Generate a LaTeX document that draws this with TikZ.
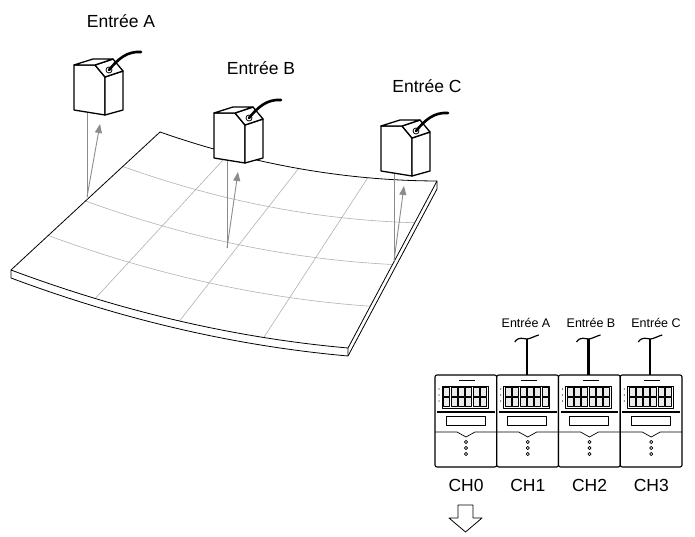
\documentclass[tikz,border=0pt]{standalone}
\usepackage{fontspec}
\setmainfont{Liberation Sans}
\usetikzlibrary{arrows.meta}
\begin{document}
\begin{tikzpicture}[x=1pt,y=-1pt,line join=round,
  edge/.style={draw=black,line width=0.8pt},
  grid/.style={draw=black!30,line width=0.6pt},
  ray/.style={draw=black!45,line width=0.9pt},
  sens/.style={draw=black,line width=1.3pt,fill=white},
  lbl/.style={font=\fontsize{17.5}{17.5}\selectfont,inner sep=0pt},
  slbl/.style={font=\fontsize{12.5}{12.5}\selectfont,inner sep=0pt},
  mod/.style={draw=black,line width=1.1pt,fill=white,rounded corners=2pt}]
\useasboundingbox (0,0) rectangle (695,537);
% surface
\def\SX#1#2{(1-#2)*((1-#1)*160+#1*437)+#2*((1-#1)*11+#1*348)}
\def\SY#1#2{(1-#2)*((1-#1)*132+#1*181)+#2*((1-#1)*270+#1*348)+48*#1*(1-#1)}
\fill[white] plot[domain=0:1,samples=40,variable=\u] ({\SX{\u}{0}},{\SY{\u}{0}}) -- plot[domain=1:0,samples=40,variable=\u] ({\SX{\u}{1}},{\SY{\u}{1}+8}) -- cycle;
\foreach \v in {0.25,0.5,0.75}
  \draw[grid] plot[domain=0:1,samples=40,variable=\u] ({\SX{\u}{\v}},{\SY{\u}{\v}});
\foreach \u in {0.25,0.5,0.75}
  \draw[grid] ({\SX{\u}{0}},{\SY{\u}{0}}) -- ({\SX{\u}{1}},{\SY{\u}{1}});
\draw[edge] plot[domain=0:1,samples=40,variable=\u] ({\SX{\u}{0}},{\SY{\u}{0}});
\draw[edge] plot[domain=0:1,samples=40,variable=\u] ({\SX{\u}{1}},{\SY{\u}{1}});
\draw[edge] plot[domain=0:1,samples=40,variable=\u] ({\SX{\u}{1}},{\SY{\u}{1}+8});
\draw[edge] (160,132) -- (11,270) -- (11,278);
\draw[edge] (437,181) -- (348,348) -- (348,356);
\draw[edge] (437,181) -- (437,189) -- (348,356);
% sensors
\newcommand\mysensor[3]{%
\begin{scope}[shift={(#1,#2)}]
 \coordinate (#3) at (0,0);
 \draw[sens] (0,0) -- (21,0) -- (31,12) -- (31,50) -- (0,45) -- cycle;
 \draw[sens] (31,12) -- (49,6) -- (49,45) -- (31,50) -- cycle;
 \draw[sens] (21,0) -- (39,-6) -- (49,6) -- (31,12) -- cycle;
 \draw[sens] (0,0) -- (19,-6) -- (39,-6) -- (21,0) -- cycle;
 \draw[line width=0.8pt] (35,5) circle (3);
 \draw[line width=2.6pt,line cap=round] (35,5) .. controls (44,-6) and (53,-14) .. (67,-13);
\end{scope}}
\coordinate (pa) at (87,197); \coordinate (pb) at (227,248); \coordinate (pc) at (394,261);
\coordinate (ta) at (100,124); \coordinate (tb) at (238,172); \coordinate (tc) at (404,186);
\draw[ray] (87,112) -- (pa); \draw[ray] (227,161) -- (pb); \draw[ray] (394,174) -- (pc);
\draw[ray,-{Triangle[length=9pt,width=7pt]}] (pa) -- (ta);
\draw[ray,-{Triangle[length=9pt,width=7pt]}] (pb) -- (tb);
\draw[ray,-{Triangle[length=9pt,width=7pt]}] (pc) -- (tc);
\mysensor{74}{65}{sa}
\mysensor{214}{113}{sb}
\mysensor{381}{126}{sc}
\node[lbl] (la) at (121,21) {Entrée A};
\node[lbl] (lb) at (261,68) {Entrée B};
\node[lbl] (lc) at (427,86) {Entrée C};
% modules
\foreach \i/\nm in {0/CH0,1/CH1,2/CH2,3/CH3}{
 \begin{scope}[shift={({435+61.75*\i},375)}]
  \draw[mod] (0,0) rectangle (61.75,92);
  \draw[line width=0.7pt] (7,11) rectangle (53,33);
  \foreach \c in {0,...,5}{\foreach \r in {0,1}{
    \draw[line width=0.4pt,fill=black!8] ({8.5+7.3*\c},{12.5+10*\r}) rectangle ++(6,8.5);}}
  \foreach \r in {0,1,2}{\fill ({4},{14+6*\r}) circle (0.6);}
  \draw[line width=0.4pt] (24,5) -- (40,5);
  \draw[line width=1.2pt] (2,37) -- (59.75,37);
  \draw[line width=0.7pt] (11,41) rectangle (50,50);
  \draw[line width=0.7pt] (0,57) -- (22,57) -- (31,62) -- (40,57) -- (61.75,57);
  \foreach \r in {0,1,2}{\draw[line width=0.6pt] (31,{67+6*\r}) circle (1.6);}
  \node[lbl] (ch\i) at (31,110) {\nm};
 \end{scope}}
\foreach \i/\t in {1/A,2/B,3/C}{
 \begin{scope}[shift={({435+61.75*\i+30},339)}]
  \draw[line width=2.4pt] (0,0) -- (0,36);
  \draw[line width=1.2pt] (-12,3) .. controls (-8,-3) and (-3,0) .. (0,0) .. controls (3,0) and (8,-3) .. (12,-4);
 \end{scope}}
\node[slbl] (ea) at (526,323) {Entrée A};
\node[slbl] (eb) at (591,323) {Entrée B};
\node[slbl] (ec) at (656,323) {Entrée C};
% down arrow
\draw[line width=0.8pt,fill=white] (458,505) -- (473,505) -- (473,518) -- (482,518) -- (465.5,532) -- (449,518) -- (458,518) -- cycle;
\end{tikzpicture}
\end{document}
